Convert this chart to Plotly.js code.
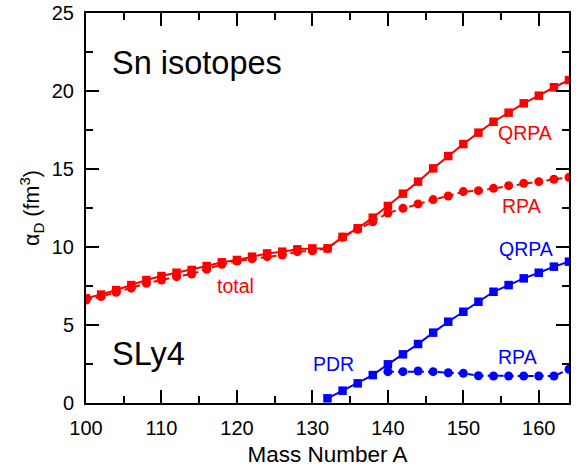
<!DOCTYPE html>
<html>
<head>
<meta charset="utf-8">
<script src="https://cdn.plot.ly/plotly-3.0.1.min.js"></script>
<style>html,body{margin:0;padding:0;background:#fff;}#chart{width:585px;height:473px;}</style>
</head>
<body>
<div id="chart"></div>
<script>
// Mass numbers
const massRed = [100,102,104,106,108,110,112,114,116,118,120,122,124,126,128,130,132,134,136,138,140,142,144,146,148,150,152,154,156,158,160,162,164];
// total polarizability, QRPA (squares, solid)
const totalQRPA = [6.71,6.95,7.24,7.56,7.88,8.14,8.35,8.53,8.78,9.02,9.17,9.38,9.59,9.70,9.85,9.91,9.91,10.65,11.20,11.88,12.63,13.42,14.19,15.04,15.83,16.60,17.33,18.03,18.61,19.21,19.70,20.24,20.70];
// total polarizability, RPA (circles, dashed)
const totalRPA = [6.60,6.82,7.10,7.36,7.67,7.88,8.10,8.27,8.57,8.89,9.10,9.24,9.38,9.49,9.70,9.76,9.91,10.62,11.13,11.62,12.18,12.48,12.76,13.04,13.27,13.55,13.61,13.76,13.93,14.08,14.19,14.34,14.47];
// PDR, QRPA (squares, solid)
const massPdrQ = [132,134,136,138,140,142,144,146,148,150,152,154,156,158,160,162,164];
const pdrQRPA = [0.30,0.79,1.26,1.79,2.48,3.12,3.78,4.51,5.21,5.85,6.49,7.13,7.56,7.99,8.35,8.74,9.06];
// PDR, RPA (circles, dashed)
const massPdrR = [140,142,144,146,148,150,152,154,156,158,160,162,164];
const pdrRPA = [2.01,2.01,2.05,2.01,1.94,1.90,1.75,1.73,1.73,1.73,1.73,1.73,2.16];

// tick positions and labels
const xTicks = [100,110,120,130,140,150,160];
const xTickLabels = ['100','110','120','130','140','150','160'];
const xMinor = [105,115,125,135,145,155];
const yTicks = [0,5,10,15,20,25];
const yTickLabels = ['0','5','10','15','20','25'];
const yMinor = [2.5,7.5,12.5,17.5,22.5];

const RED = '#ff0000', BLUE = '#0000ff';

const traces = [
  {x: massRed, y: totalQRPA, mode: 'lines+markers', line: {color: RED, width: 2}, marker: {symbol: 'square', size: 8.5, color: RED}},
  {x: massRed, y: totalRPA, mode: 'lines+markers', line: {color: RED, width: 2, dash: '6px,4px'}, marker: {symbol: 'circle', size: 9, color: RED}},
  {x: massPdrQ, y: pdrQRPA, mode: 'lines+markers', line: {color: BLUE, width: 2}, marker: {symbol: 'square', size: 8.5, color: BLUE}},
  {x: massPdrR, y: pdrRPA, mode: 'lines+markers', line: {color: BLUE, width: 2, dash: '6px,4px'}, marker: {symbol: 'circle', size: 9, color: BLUE}}
];

const fontFam = 'Liberation Sans, Arial, sans-serif';
function ann(text, x, y, color, size, xanchor) {
  return {text: text, x: x, y: y, xref: 'x', yref: 'y', showarrow: false,
    xanchor: xanchor || 'center', yanchor: 'middle', font: {family: fontFam, size: size, color: color}};
}

const layout = {
  width: 585, height: 473,
  margin: {l: 86, r: 16, t: 13, b: 70},
  paper_bgcolor: '#fff', plot_bgcolor: '#fff',
  showlegend: false,
  font: {family: fontFam, color: '#000'},
  xaxis: {
    range: [100, 164], tickmode: 'array', tickvals: xTicks, ticktext: xTickLabels,
    ticks: 'inside', ticklen: 13, tickwidth: 2, tickcolor: '#000',
    showline: true, linewidth: 2, linecolor: '#000', mirror: 'allticks',
    showgrid: false, zeroline: false,
    minor: {tickmode: 'array', tickvals: xMinor, ticks: 'inside', ticklen: 7, tickwidth: 2, tickcolor: '#000', showgrid: false},
    tickfont: {size: 20, family: fontFam, color: '#000'},
    ticklabelstandoff: 6,
    title: {text: 'Mass Number A', font: {size: 22.5, family: fontFam, color: '#000'}, standoff: 8}
  },
  yaxis: {
    range: [0, 25], tickmode: 'array', tickvals: yTicks, ticktext: yTickLabels,
    ticks: 'inside', ticklen: 13, tickwidth: 2, tickcolor: '#000',
    showline: true, linewidth: 2, linecolor: '#000', mirror: 'allticks',
    showgrid: false, zeroline: false,
    minor: {tickmode: 'array', tickvals: yMinor, ticks: 'inside', ticklen: 7, tickwidth: 2, tickcolor: '#000', showgrid: false},
    tickfont: {size: 20, family: fontFam, color: '#000'},
    ticklabelstandoff: 6,
    title: {text: 'α<sub>D</sub> (fm<sup>3</sup>)', font: {size: 21.5, family: fontFam, color: '#000'}, standoff: 6}
  },
  annotations: [
    ann('Sn isotopes', 103.2, 21.8, '#000', 32.5, 'left'),
    ann('SLy4', 103.2, 3.14, '#000', 32.5, 'left'),
    ann('QRPA', 158.2, 17.3, RED, 19.5),
    ann('RPA', 157.7, 12.63, RED, 19.5),
    ann('total', 119.8, 7.48, RED, 19.5),
    ann('QRPA', 158.3, 9.9, BLUE, 19.5),
    ann('RPA', 157.2, 2.95, BLUE, 19.5),
    ann('PDR', 132.8, 2.47, BLUE, 19.5)
  ]
};

Plotly.newPlot('chart', traces, layout, {displayModeBar: false, staticPlot: true});
</script>
</body>
</html>
